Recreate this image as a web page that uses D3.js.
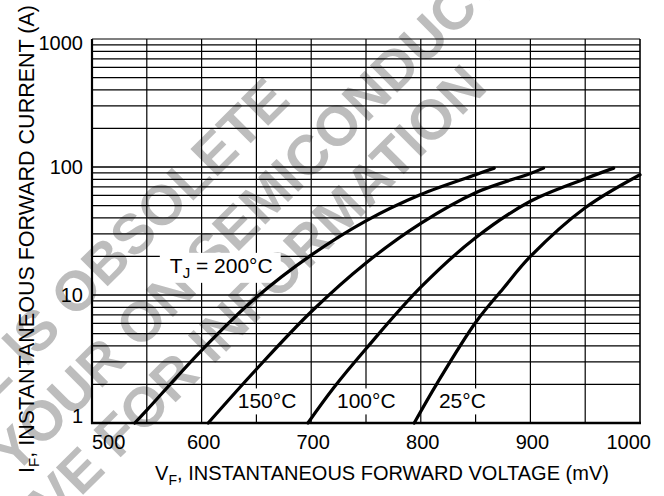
<!DOCTYPE html>
<html>
<head>
<meta charset="utf-8">
<script src="https://cdn.jsdelivr.net/npm/d3@7"></script>
<style>
  body { margin: 0; background: #fff; }
  text { font-family: "Liberation Sans", Arial, Helvetica, sans-serif; }
</style>
</head>
<body>
<div id="container"></div>
<script>
// forward voltage (mV) / forward current (A)
const vf200 = [539, 550, 600, 650, 700, 750, 800, 850, 867];
const if200 = [1, 1.26, 3.7, 9.6, 20.5, 38, 61, 87, 98];
const vf150 = [606, 650, 700, 750, 800, 850, 900, 912];
const if150 = [1, 2.63, 7.4, 17.8, 36.3, 63, 89, 98];
const vf100 = [697, 720, 750, 800, 850, 900, 950, 976];
const if100 = [1, 1.86, 3.8, 11.5, 28, 54, 81, 98];
const vf25 = [794, 815, 850, 875, 900, 950, 1000];
const if25 = [1, 2.05, 6.1, 11.2, 20, 48, 87];

const xTicks = [500, 600, 700, 800, 900, 1000];
const yTicks = [1, 10, 100, 1000];

// label text + where it sits (in data units)
const tempLabels = ["200°C", "150°C", "100°C", "25°C"];
const labelV = [571, 633, 723.5, 816.5];
const labelI = [14.9, 1.3, 1.3, 1.3];

let w = 664, h = 496;
let margin = {left: 92, right: 24, top: 39, bottom: 73};

let svg = d3.select("#container").append("svg")
    .attr("width", w)
    .attr("height", h);

let x = d3.scaleLinear().domain([500, 1000]).range([margin.left, w - margin.right]);
let y = d3.scaleLog().domain([1, 1000]).range([h - margin.bottom, margin.top]);

// watermark (sits behind the grid)
let wm = svg.append("g").attr("fill", "#bdbdbd")
    .style("font-weight", "bold").style("font-size", "56px");
wm.append("text").attr("text-anchor", "end")
    .attr("transform", "translate(292,102) rotate(-45)")
    .text("THIS DEVICE IS OBSOLETE");
wm.append("text").attr("text-anchor", "start")
    .attr("transform", "translate(14,476) rotate(-45)")
    .text("YOUR ON SEMICONDUCTOR");
wm.append("text").attr("text-anchor", "end")
    .attr("transform", "translate(489,89) rotate(-45)")
    .text("REPRESENTATIVE FOR INFORMATION");

// grid
let hLines = [];
[1, 10, 100].forEach(d => { for (let k = 1; k <= 10; k++) hLines.push(d * k); });
let vLines = d3.range(550, 1000, 50);

let grid = svg.append("g").attr("stroke", "#000").attr("stroke-width", 1.2);
grid.selectAll(".hl").data(hLines).enter().append("line")
    .attr("x1", x(500)).attr("x2", x(1000))
    .attr("y1", d => y(d)).attr("y2", d => y(d));
grid.selectAll(".vl").data(vLines).enter().append("line")
    .attr("x1", d => x(d)).attr("x2", d => x(d))
    .attr("y1", y(1)).attr("y2", y(1000));

// frame
svg.append("line").attr("x1", x(500)).attr("x2", x(500)).attr("y1", y(1000)).attr("y2", y(1) + 1)
    .attr("stroke", "#000").attr("stroke-width", 2.2);
svg.append("line").attr("x1", x(500) - 1).attr("x2", x(1000) + 1).attr("y1", y(1)).attr("y2", y(1))
    .attr("stroke", "#000").attr("stroke-width", 2.5);
svg.append("line").attr("x1", x(1000)).attr("x2", x(1000)).attr("y1", y(1000)).attr("y2", y(1))
    .attr("stroke", "#000").attr("stroke-width", 1.6);

// temperature labels on white boxes
let labels = svg.append("g").style("font-size", "21px");
tempLabels.forEach((t, i) => {
  let txt = labels.append("text").attr("x", x(labelV[i])).attr("y", y(labelI[i]));
  if (i === 0) {
    txt.append("tspan").text("T");
    txt.append("tspan").attr("dy", 5).style("font-size", "15px").text("J");
    txt.append("tspan").attr("dy", -5).text(" = " + t);
  } else {
    txt.text(t);
  }
  let bb = txt.node().getBBox();
  labels.insert("rect", "text")
    .attr("x", bb.x - 10).attr("y", bb.y - 1)
    .attr("width", bb.width + 18).attr("height", bb.height + 3)
    .attr("fill", "#fff");
});

// curves
let line = d3.line().x(d => x(d[0])).y(d => y(d[1])).curve(d3.curveCatmullRom.alpha(0.5));
let series = [[vf200, if200], [vf150, if150], [vf100, if100], [vf25, if25]];
svg.selectAll(".curve").data(series).enter().append("path")
    .attr("d", s => line(s[0].map((v, i) => [v, s[1][i]])))
    .attr("fill", "none")
    .attr("stroke", "#000")
    .attr("stroke-width", 3.2)
    .attr("stroke-linecap", "round");

// tick labels
svg.append("g").style("font-size", "20px").selectAll("text").data(xTicks).enter().append("text")
    .attr("x", (d, i) => i === 0 ? x(d) : i === xTicks.length - 1 ? x(d) + 11 : x(d) + 2)
    .attr("y", y(1) + 26)
    .attr("text-anchor", (d, i) => i === 0 ? "start" : i === xTicks.length - 1 ? "end" : "middle")
    .text(d => d);

svg.append("g").style("font-size", "20px").selectAll("text").data(yTicks).enter().append("text")
    .attr("x", x(500) - 9)
    .attr("y", (d, i) => y(d) + (i === 0 ? 0 : i === yTicks.length - 1 ? 11 : 7))
    .attr("text-anchor", "end")
    .text(d => d);

// axis titles
let xt = svg.append("text").attr("x", 382).attr("y", 480)
    .attr("text-anchor", "middle").style("font-size", "20px");
xt.append("tspan").text("V");
xt.append("tspan").attr("dy", 5).style("font-size", "14px").text("F");
xt.append("tspan").attr("dy", -5).text(", INSTANTANEOUS FORWARD VOLTAGE (mV)");

let yt = svg.append("text").attr("transform", "translate(34,239) rotate(-90)")
    .attr("text-anchor", "middle").style("font-size", "21.5px");
yt.append("tspan").text("I");
yt.append("tspan").attr("dy", 5).style("font-size", "15px").text("F");
yt.append("tspan").attr("dy", -5).text(", INSTANTANEOUS FORWARD CURRENT (A)");
</script>
</body>
</html>
